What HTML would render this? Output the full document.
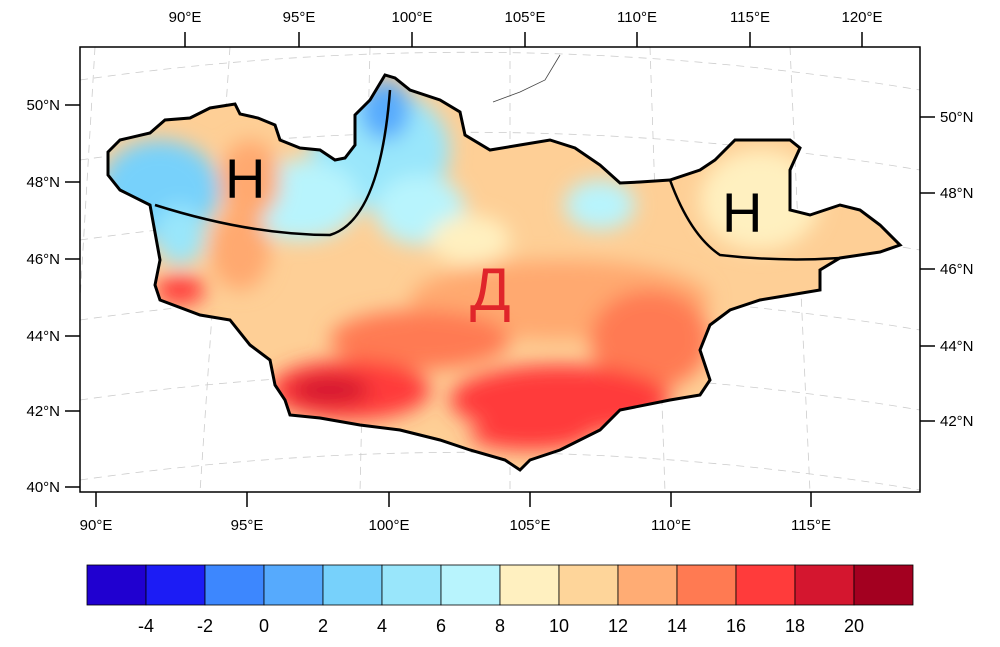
<!DOCTYPE html>
<html><head><meta charset="utf-8"><style>
body{margin:0;background:#fff;}
svg text{font-family:"Liberation Sans",sans-serif;font-size:15px;fill:#000;}
</style></head><body>
<svg width="1000" height="642" viewBox="0 0 1000 642" xmlns="http://www.w3.org/2000/svg">
<defs>
<clipPath id="mn"><path id="outline" d="M108,152 L120,140 150,133 165,120 190,118 210,108 235,104 240,114 258,118 275,125 280,140 300,148 320,150 335,160 345,158 355,145 355,115 370,100 385,75 395,78 410,90 440,100 460,112 465,135 490,150 520,145 550,140 575,148 600,165 620,183 640,182 670,180 700,170 715,160 735,140 760,140 790,140 800,148 790,170 790,210 810,215 840,205 860,210 880,225 900,245 880,252 840,258 820,270 820,290 790,295 760,300 730,310 710,325 700,350 710,380 700,395 670,400 620,410 600,430 560,450 530,460 520,470 505,460 470,450 440,440 400,430 360,425 320,418 290,415 285,400 275,385 270,360 250,345 230,320 200,315 160,300 155,285 160,260 150,205 120,190 108,175 Z"/></clipPath>
<filter id="bl"><feGaussianBlur stdDeviation="10"/></filter>
</defs>
<g stroke="#ccc" stroke-dasharray="8,6" stroke-width="0.8" fill="none">
<path d="M80,80 Q500,20 920,90"/><path d="M80,160 Q500,100 920,170"/><path d="M80,240 Q500,180 920,250"/><path d="M80,320 Q500,260 920,330"/><path d="M80,400 Q500,340 920,410"/><path d="M80,480 Q500,420 920,490"/>
<path d="M95,47 L80,300"/><path d="M230,47 L200,492"/><path d="M370,47 L360,492"/><path d="M510,47 L510,492"/><path d="M650,47 L665,492"/><path d="M790,47 L810,492"/>
</g>
<g clip-path="url(#mn)">
<rect x="80" y="47" width="840" height="445" fill="#fecf96"/>
<g filter="url(#bl)">
<ellipse cx="160" cy="190" rx="60" ry="50" fill="#77d1fb"/>
<ellipse cx="180" cy="235" rx="25" ry="30" fill="#99e6fb"/>
<ellipse cx="380" cy="150" rx="70" ry="60" fill="#99e6fb"/>
<ellipse cx="420" cy="210" rx="45" ry="35" fill="#b8f4fd"/>
<ellipse cx="385" cy="110" rx="25" ry="30" fill="#56aafd"/>
<ellipse cx="300" cy="200" rx="60" ry="40" fill="#b8f4fd"/>
<ellipse cx="600" cy="205" rx="35" ry="25" fill="#b8f4fd"/>
<ellipse cx="250" cy="180" rx="30" ry="40" fill="#ffa96f"/>
<ellipse cx="240" cy="250" rx="30" ry="40" fill="#ffa96f"/>
<ellipse cx="470" cy="240" rx="40" ry="25" fill="#fff0c0"/>
<ellipse cx="760" cy="200" rx="60" ry="50" fill="#fff0c0"/>
<ellipse cx="560" cy="300" rx="150" ry="40" fill="#ffa96f"/>
<ellipse cx="650" cy="340" rx="60" ry="50" fill="#ff7a52"/>
<ellipse cx="420" cy="340" rx="90" ry="30" fill="#ff7a52"/>
<ellipse cx="350" cy="390" rx="80" ry="30" fill="#ff3b3b"/>
<ellipse cx="560" cy="400" rx="110" ry="35" fill="#ff3b3b"/>
<ellipse cx="330" cy="390" rx="40" ry="15" fill="#d4162f"/>
<ellipse cx="530" cy="435" rx="60" ry="15" fill="#ff3b3b"/>
<ellipse cx="180" cy="290" rx="25" ry="15" fill="#ff3b3b"/>
</g>
</g>
<use href="#outline" fill="none" stroke="#000" stroke-width="3"/>
<path d="M155,205 Q250,235 330,235 Q380,220 390,90" fill="none" stroke="#000" stroke-width="2.5"/>
<path d="M670,180 Q690,235 720,255 Q780,262 840,258" fill="none" stroke="#000" stroke-width="2.5"/>
<path d="M493,102 L520,92 545,80 560,55" fill="none" stroke="#444" stroke-width="0.8"/>
<text x="225" y="198" style="font-size:56px">H</text>
<text x="722" y="232" style="font-size:56px">H</text>
<text x="470" y="310" style="font-size:60px;fill:#e0252a">Д</text>
<rect x="80" y="47" width="840" height="445" fill="none" stroke="#000" stroke-width="1.5"/>
<g stroke="#000" stroke-width="1.5">
<path d="M185,32V47M299,32V47M412,32V47M525,32V47M637,32V47M750,32V47M862,32V47"/>
<path d="M96,492V507M247,492V507M389,492V507M530,492V507M671,492V507M811,492V507"/>
<path d="M65,105H80M65,182H80M65,259H80M65,336H80M65,411H80M65,487H80"/>
<path d="M920,117H935M920,193H935M920,269H935M920,346H935M920,421H935"/>
</g>
<g text-anchor="middle">
<text x="185" y="22">90°E</text><text x="299" y="22">95°E</text><text x="412" y="22">100°E</text><text x="525" y="22">105°E</text><text x="637" y="22">110°E</text><text x="750" y="22">115°E</text><text x="862" y="22">120°E</text>
<text x="96" y="530">90°E</text><text x="247" y="530">95°E</text><text x="389" y="530">100°E</text><text x="530" y="530">105°E</text><text x="671" y="530">110°E</text><text x="811" y="530">115°E</text>
</g>
<g text-anchor="end">
<text x="60" y="110">50°N</text><text x="60" y="187">48°N</text><text x="60" y="264">46°N</text><text x="60" y="341">44°N</text><text x="60" y="416">42°N</text><text x="60" y="492">40°N</text>
</g>
<g>
<text x="940" y="122">50°N</text><text x="940" y="198">48°N</text><text x="940" y="274">46°N</text><text x="940" y="351">44°N</text><text x="940" y="426">42°N</text>
</g>
<g stroke="#000" stroke-width="0.8">
<rect x="87" y="565" width="59" height="40" fill="#2000d0"/>
<rect x="146" y="565" width="59" height="40" fill="#1c1cf5"/>
<rect x="205" y="565" width="59" height="40" fill="#3d87fe"/>
<rect x="264" y="565" width="59" height="40" fill="#56aafd"/>
<rect x="323" y="565" width="59" height="40" fill="#77d1fb"/>
<rect x="382" y="565" width="59" height="40" fill="#99e6fb"/>
<rect x="441" y="565" width="59" height="40" fill="#b8f4fd"/>
<rect x="500" y="565" width="59" height="40" fill="#fff0c0"/>
<rect x="559" y="565" width="59" height="40" fill="#fed59a"/>
<rect x="618" y="565" width="59" height="40" fill="#ffac74"/>
<rect x="677" y="565" width="59" height="40" fill="#ff7a52"/>
<rect x="736" y="565" width="59" height="40" fill="#ff3b3b"/>
<rect x="795" y="565" width="59" height="40" fill="#d4162f"/>
<rect x="854" y="565" width="59" height="40" fill="#a30020"/>
</g>
<g text-anchor="middle">
<text x="146" y="632" style="font-size:18px">-4</text><text x="205" y="632" style="font-size:18px">-2</text><text x="264" y="632" style="font-size:18px">0</text><text x="323" y="632" style="font-size:18px">2</text><text x="382" y="632" style="font-size:18px">4</text><text x="441" y="632" style="font-size:18px">6</text><text x="500" y="632" style="font-size:18px">8</text><text x="559" y="632" style="font-size:18px">10</text><text x="618" y="632" style="font-size:18px">12</text><text x="677" y="632" style="font-size:18px">14</text><text x="736" y="632" style="font-size:18px">16</text><text x="795" y="632" style="font-size:18px">18</text><text x="854" y="632" style="font-size:18px">20</text>
</g>
</svg>
</body></html>
